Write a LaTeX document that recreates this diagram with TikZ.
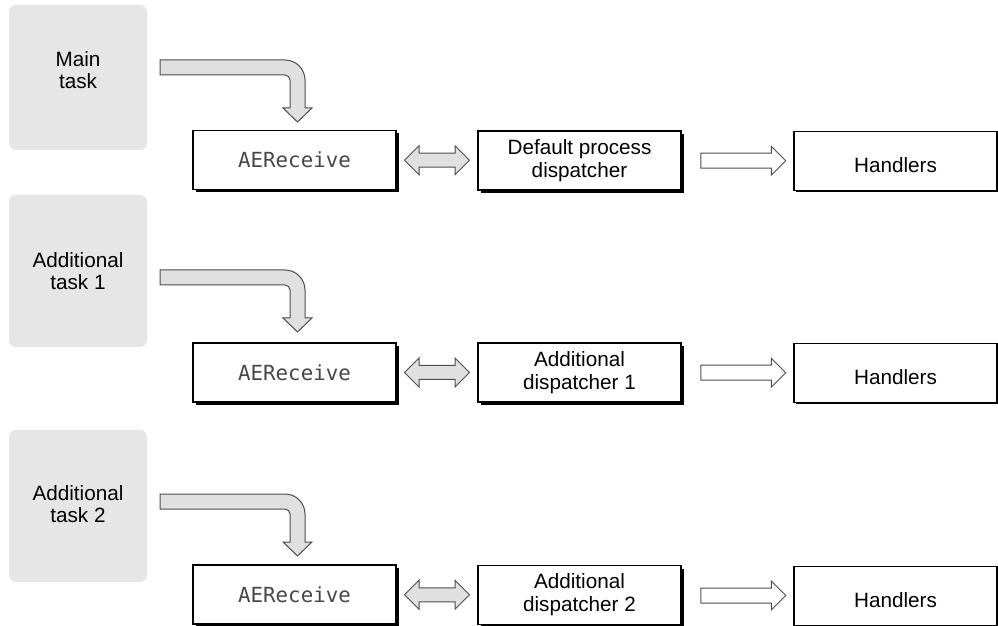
\documentclass[tikz,border=0pt]{standalone}
\usepackage{fontspec}
\setmainfont{Liberation Sans}
\newfontfamily\aemono{DejaVu Sans Mono}
\usetikzlibrary{shapes.arrows,shadows,calc}

\definecolor{taskgray}{HTML}{E6E6E6}
\definecolor{arrowgray}{HTML}{E0E0E0}
\definecolor{edgegray}{HTML}{4D4D4D}

\tikzset{
  taskbox/.style={fill=taskgray, rounded corners=3.5pt, minimum width=69pt, inner sep=0pt},
  tasktext/.style={align=center, font=\fontsize{10.35}{11.25}\selectfont},
  procbox/.style={draw, line width=0.6pt, fill=white, minimum width=101.5pt, minimum height=29.5pt,
    inner sep=0pt, align=center, font=\fontsize{10.35}{11.5}\selectfont},
  deepshadow/.style={drop shadow={shadow xshift=1.5pt, shadow yshift=-1.5pt, fill=black, opacity=1}},
  thinshadow/.style={drop shadow={shadow xshift=1pt, shadow yshift=-1pt, fill=black, opacity=1}},
  recvfont/.style={font=\aemono\fontsize{10.4}{12}\selectfont, text=black!72},
  linkarrow/.style={double arrow, draw=edgegray, fill=arrowgray, line width=0.5pt, inner sep=0pt,
    text height=6.5pt, text depth=0pt, text width=0pt, minimum width=0pt, minimum height=32.5pt,
    double arrow head extend=3.75pt},
  passarrow/.style={single arrow, draw=edgegray, fill=white, line width=0.5pt, inner sep=0pt,
    text height=7pt, text depth=0pt, text width=0pt, minimum width=0pt, minimum height=42.5pt,
    single arrow head extend=3.5pt},
  bentarrow/.style={draw=edgegray, fill=arrowgray, line width=0.5pt, line join=miter}
}

\begin{document}
\begin{tikzpicture}[x=0.5pt, y=-0.5pt]
\useasboundingbox (0,0) rectangle (998,626);

% main task
\node[taskbox, minimum height=72.5pt] (task1) at (78,77.5) {};
\node[tasktext] (task1text) at (78,70) {Main\\task};
\coordinate (in1) at (160,60);
\draw[bentarrow] (in1) -- ++(125,0) arc (-90:0:20) -- ++(0,28) -- ++(7,0) -- ++(-14.5,14)
  -- ++(-14.5,-14) -- ++(7,0) -- ++(0,-28) arc (0:-90:5) -- ++(-125,0) -- cycle;
\node[procbox, deepshadow, recvfont] (recv1) at (294.5,160) {AEReceive};
\node[procbox, deepshadow] (disp1) at (579.5,160.5) {Default process\\dispatcher};
\node[procbox, thinshadow, text height=11.4pt] (hand1) at (895.5,161) {Handlers};
\node[linkarrow] (link1) at ($(recv1.east)!0.5!(disp1.west)$) {};
\node[passarrow] (pass1) at ($(disp1.east)!0.5!(hand1.west)+(2,0)$) {};

% additional task 1
\node[taskbox, minimum height=76pt] (task2) at (78,271) {};
\node[tasktext] (task2text) at (78,271) {Additional\\task 1};
\coordinate (in2) at (160,270);
\draw[bentarrow] (in2) -- ++(125,0) arc (-90:0:20) -- ++(0,28) -- ++(7,0) -- ++(-14.5,14)
  -- ++(-14.5,-14) -- ++(7,0) -- ++(0,-28) arc (0:-90:5) -- ++(-125,0) -- cycle;
\node[procbox, deepshadow, recvfont] (recv2) at (294.5,372.5) {AEReceive};
\node[procbox, deepshadow] (disp2) at (579.5,372.5) {Additional\\dispatcher 1};
\node[procbox, thinshadow, text height=11.4pt] (hand2) at (895.5,373) {Handlers};
\node[linkarrow] (link2) at ($(recv2.east)!0.5!(disp2.west)$) {};
\node[passarrow] (pass2) at ($(disp2.east)!0.5!(hand2.west)+(2,0)$) {};

% additional task 2
\node[taskbox, minimum height=76pt] (task3) at (78,506) {};
\node[tasktext] (task3text) at (78,504) {Additional\\task 2};
\coordinate (in3) at (160,494);
\draw[bentarrow] (in3) -- ++(125,0) arc (-90:0:20) -- ++(0,28) -- ++(7,0) -- ++(-14.5,14)
  -- ++(-14.5,-14) -- ++(7,0) -- ++(0,-28) arc (0:-90:5) -- ++(-125,0) -- cycle;
\node[procbox, deepshadow, recvfont] (recv3) at (294.5,594.5) {AEReceive};
\node[procbox, deepshadow] (disp3) at (579.5,595) {Additional\\dispatcher 2};
\node[procbox, thinshadow, text height=11.4pt] (hand3) at (895.5,596) {Handlers};
\node[linkarrow] (link3) at ($(recv3.east)!0.5!(disp3.west)$) {};
\node[passarrow] (pass3) at ($(disp3.east)!0.5!(hand3.west)+(2,0)$) {};
\end{tikzpicture}
\end{document}
